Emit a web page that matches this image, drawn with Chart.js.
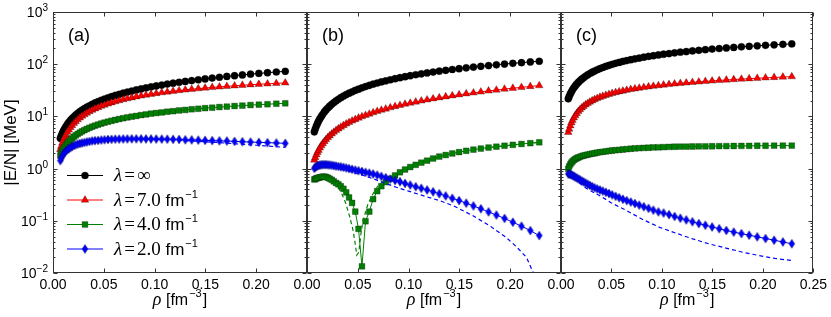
<!DOCTYPE html>
<html>
<head>
<meta charset="utf-8">
<script src="https://cdn.jsdelivr.net/npm/chart.js@4.4.0/dist/chart.umd.min.js"></script>
<style>
  html, body { margin: 0; padding: 0; background: #fff; }
  #wrap { position: relative; width: 831px; height: 317px; }
  #wrap canvas { position: absolute; left: 0; top: 0; }
</style>
</head>
<body>
<div id="wrap">
  <canvas id="pa" width="831" height="317"></canvas>
  <canvas id="pb" width="831" height="317"></canvas>
  <canvas id="pc" width="831" height="317"></canvas>
</div>
<script>
// density grid (fm^-3), shared by all markers
const rho = [0.0072,0.0081,0.0092,0.0103,0.0114,0.0127,0.0141,0.0155,0.0171,0.0187,
  0.0205,0.0223,0.0243,0.0264,0.0286,0.0309,0.0333,0.0359,0.0386,0.0414,
  0.0444,0.0475,0.0507,0.0541,0.0576,0.0613,0.0651,0.0691,0.0732,0.0775,
  0.0820,0.0867,0.0915,0.0965,0.1016,0.1070,0.1125,0.1182,0.1241,0.1302,
  0.1365,0.1430,0.1497,0.1567,0.1638,0.1711,0.1787,0.1864,0.1944,0.2026,
  0.2111,0.2198,0.2286];

// panel (a)
const aInf = [3.80,4.24,4.77,5.29,5.80,6.40,7.03,7.65,8.36,9.06,
  9.83,10.6,11.4,12.3,13.2,14.1,15.0,16.0,17.1,18.1,
  19.2,20.4,21.5,22.7,23.9,25.2,26.5,27.9,29.3,30.6,
  32.1,33.6,35.1,36.8,38.3,39.9,41.6,43.3,45.1,46.8,
  48.6,50.4,52.3,54.3,56.2,58.2,60.2,62.3,64.5,66.6,
  68.7,70.9,73.1];
const a7 = [2.32,2.67,3.10,3.53,3.96,4.46,4.99,5.51,6.11,6.70,
  7.34,7.97,8.67,9.38,10.1,10.8,11.6,12.4,13.2,14.0,
  14.8,15.7,16.5,17.4,18.3,19.2,20.1,21.0,21.9,22.8,
  23.8,24.7,25.6,26.6,27.5,28.5,29.4,30.4,31.3,32.2,
  33.1,34.0,35.0,35.9,36.8,37.7,38.6,39.5,40.4,41.3,
  42.1,43.0,43.9];
const a4 = [1.78,1.96,2.18,2.39,2.60,2.83,3.07,3.30,3.55,3.80,
  4.07,4.33,4.61,4.89,5.17,5.46,5.74,6.05,6.36,6.66,
  6.97,7.29,7.60,7.92,8.24,8.56,8.90,9.23,9.56,9.89,
  10.2,10.6,10.9,11.3,11.6,11.9,12.3,12.6,13.0,13.3,
  13.7,14.0,14.4,14.7,15.1,15.4,15.8,16.1,16.5,16.8,
  17.1,17.5,17.8];
const a2 = [1.42,1.58,1.74,1.91,2.04,2.19,2.29,2.40,2.51,2.63,
  2.75,2.85,2.95,3.02,3.09,3.16,3.24,3.31,3.39,3.43,
  3.47,3.53,3.57,3.61,3.63,3.66,3.68,3.70,3.71,3.72,
  3.72,3.72,3.71,3.70,3.69,3.67,3.66,3.63,3.61,3.57,
  3.55,3.52,3.48,3.44,3.40,3.37,3.32,3.27,3.23,3.18,
  3.14,3.10,3.05];
const aDash2Rho = [0.0072,0.010,0.015,0.020,0.030,0.040,0.050,0.060,0.080,0.100,0.120,0.140,0.160,0.180,0.200,0.2286];
const aDash2 = [1.42,1.87,2.37,2.72,3.14,3.41,3.56,3.64,3.70,3.64,3.52,3.36,3.18,2.98,2.80,2.55];

// panel (b)
const bInf = [5.06,5.72,6.53,7.33,8.13,9.06,10.0,11.0,12.2,13.3,
  14.5,15.7,17.0,18.4,19.8,21.3,22.8,24.5,26.2,27.8,
  29.6,31.5,33.3,35.3,37.2,39.3,41.5,43.6,45.8,48.0,
  50.4,52.8,55.2,57.7,60.2,62.8,65.4,68.1,70.8,73.6,
  76.4,79.2,82.2,85.2,88.1,91.2,94.3,97.4,100.7,103.9,
  107.1,110.4,113.8];
const b7 = [1.46,1.63,1.84,2.05,2.25,2.50,2.76,3.02,3.31,3.61,
  3.94,4.26,4.63,5.01,5.40,5.81,6.23,6.70,7.19,7.68,
  8.20,8.75,9.31,9.89,10.5,11.1,11.8,12.5,13.2,13.9,
  14.7,15.5,16.3,17.2,18.0,18.9,19.8,20.8,21.8,22.8,
  23.8,24.9,26.0,27.2,28.3,29.5,30.8,32.0,33.4,34.7,
  36.0,37.5,38.9];
const b4 = [0.62,0.63,0.65,0.66,0.67,0.68,0.69,0.70,0.70,0.69,
  0.67,0.64,0.61,0.57,0.53,0.50,0.46,0.41,0.35,0.28,
  0.22,0.15,0.070,0.0134,0.098,0.15,0.26,0.37,0.46,0.55,
  0.64,0.74,0.85,0.96,1.07,1.18,1.30,1.42,1.56,1.70,
  1.82,1.95,2.07,2.19,2.31,2.42,2.53,2.63,2.74,2.85,
  2.96,3.07,3.19];
const b2 = [1.01,1.06,1.10,1.13,1.15,1.17,1.18,1.19,1.19,1.19,
  1.18,1.17,1.16,1.14,1.12,1.10,1.08,1.06,1.03,1.00,
  0.97,0.94,0.91,0.88,0.85,0.82,0.79,0.75,0.71,0.67,
  0.63,0.59,0.56,0.52,0.485,0.45,0.42,0.39,0.36,0.33,
  0.30,0.27,0.244,0.218,0.193,0.170,0.148,0.129,0.111,0.094,
  0.079,0.065,0.052];
const bDash4Rho = [0.0072,0.010,0.015,0.020,0.025,0.030,0.034,0.038,0.042,0.045,0.047,0.049,0.051,0.053,0.0551,0.060,0.065,0.070,0.078,0.087,0.100,0.120,0.150,0.180,0.2286];
const bDash4 = [0.60,0.63,0.67,0.65,0.57,0.46,0.34,0.22,0.12,0.07,0.042,0.022,0.025,0.055,0.10,0.21,0.33,0.47,0.63,0.78,1.04,1.46,2.07,2.55,3.19];
const bDash2Rho = [0.0072,0.012,0.018,0.025,0.032,0.040,0.050,0.065,0.080,0.0879,0.100,0.115,0.1305,0.145,0.163,0.180,0.196,0.206,0.216,0.221,0.2286];
const bDash2 = [1.00,1.15,1.17,1.10,1.00,0.90,0.80,0.64,0.50,0.44,0.37,0.30,0.244,0.19,0.126,0.080,0.048,0.032,0.020,0.012,0.006];

// panel (c)
const cInf = [21.7,24.1,26.9,29.6,32.3,35.3,38.4,41.4,44.8,48.1,
  51.7,55.0,58.8,62.6,66.3,70.2,74.1,78.2,82.4,86.5,
  90.8,95.2,99.4,103.9,108.2,112.8,117.5,122.1,126.7,131.3,
  136.1,140.9,145.6,150.6,155.3,160.1,165.0,170.1,174.9,179.9,
  184.7,189.6,194.6,199.7,204.7,209.7,214.8,219.6,224.9,230.0,
  234.8,240.0,244.9];
const c7 = [4.95,5.71,6.64,7.54,8.40,9.39,10.4,11.4,12.5,13.5,
  14.6,15.6,16.7,17.8,18.9,20.0,21.1,22.2,23.3,24.3,
  25.4,26.5,27.6,28.7,29.7,30.7,31.8,32.9,33.9,34.9,
  35.9,37.0,38.0,39.0,40.0,41.0,42.0,43.0,44.0,45.0,
  45.9,46.9,47.9,48.9,49.9,50.9,51.9,52.8,53.8,54.8,
  55.8,56.8,57.8];
const c4 = [0.99,1.10,1.21,1.30,1.38,1.45,1.52,1.58,1.63,1.68,
  1.73,1.77,1.81,1.85,1.89,1.93,1.97,2.02,2.06,2.10,
  2.14,2.18,2.22,2.25,2.29,2.32,2.36,2.40,2.43,2.46,
  2.49,2.51,2.54,2.56,2.58,2.60,2.62,2.63,2.64,2.65,
  2.66,2.67,2.68,2.69,2.70,2.71,2.72,2.73,2.74,2.74,
  2.75,2.76,2.76];
const c2 = [0.794,0.789,0.776,0.759,0.738,0.714,0.689,0.664,0.637,0.611,
  0.583,0.557,0.530,0.504,0.478,0.453,0.429,0.409,0.390,0.371,
  0.352,0.333,0.314,0.295,0.277,0.259,0.244,0.229,0.214,0.200,
  0.186,0.173,0.160,0.148,0.141,0.131,0.121,0.112,0.104,0.0957,
  0.0883,0.0822,0.0762,0.0705,0.0652,0.0608,0.0568,0.0530,0.0493,0.0458,
  0.0425,0.0393,0.0363];
const cDash2Rho = [0.0072,0.010,0.015,0.020,0.025,0.0323,0.040,0.050,0.065,0.080,0.0977,0.115,0.1305,0.147,0.1634,0.180,0.196,0.212,0.2286];
const cDash2 = [0.79,0.74,0.61,0.50,0.42,0.35,0.29,0.22,0.157,0.108,0.075,0.057,0.045,0.036,0.030,0.025,0.0216,0.019,0.0173];

// axes
const xTicks = [0, 0.05, 0.10, 0.15, 0.20, 0.25];
const yTicks = [0.01, 0.1, 1, 10, 100, 1000];
const yExp = ['\u22122', '\u22121', '0', '1', '2', '3'];
const lamValues = ['\u221e', '7.0', '4.0', '2.0'];

const colors = ['#000000', '#ff0000', '#008000', '#0000ff'];
const edge = 'rgba(0,0,0,0.55)';
const SANS = '"Liberation Sans", Arial, sans-serif';
const SERIF = '"Liberation Serif", "DejaVu Serif", serif';

// thin diamond marker (matplotlib 'd')
function makeDiamond(w, h, fill) {
  const c = document.createElement('canvas');
  c.width = w + 2; c.height = h + 2;
  const g = c.getContext('2d');
  g.beginPath();
  g.moveTo(c.width / 2, 1);
  g.lineTo(w + 1, c.height / 2);
  g.lineTo(c.width / 2, h + 1);
  g.lineTo(1, c.height / 2);
  g.closePath();
  g.fillStyle = fill; g.fill();
  g.lineWidth = 0.5; g.strokeStyle = edge; g.stroke();
  return c;
}
const diamond = makeDiamond(6, 9, colors[3]);
const pointStyles = ['circle', 'triangle', 'rect', diamond];
const pointRadii = [3.6, 4.4, 4.1, 4.0];

function markerSet(ys, i) {
  return {
    data: rho.map((x, k) => ({ x, y: ys[k] })),
    borderColor: colors[i], backgroundColor: colors[i], borderWidth: 1,
    pointStyle: pointStyles[i], pointRadius: pointRadii[i],
    pointBackgroundColor: colors[i], pointBorderColor: edge, pointBorderWidth: 0.5,
    tension: 0
  };
}
function dashSet(xs, ys, i) {
  return {
    data: xs.map((x, k) => ({ x, y: ys[k] })),
    borderColor: colors[i], borderWidth: 1.2, borderDash: [4, 3],
    pointRadius: 0, tension: 0
  };
}

// frame, inward ticks, labels
function drawFrame(chart, opts) {
  const ctx = chart.ctx, a = chart.chartArea;
  const xs = chart.scales.x, ys = chart.scales.y;
  const L = Math.round(a.left) + 0.5, R = Math.round(a.right) - 0.5;
  const T = Math.round(a.top) + 0.5, B = Math.round(a.bottom) - 0.5;
  ctx.save();
  ctx.strokeStyle = '#333'; ctx.lineWidth = 1;
  ctx.beginPath();
  xTicks.forEach(v => {
    const px = Math.round(xs.getPixelForValue(v)) + 0.5;
    ctx.moveTo(px, B); ctx.lineTo(px, B - 4);
    ctx.moveTo(px, T); ctx.lineTo(px, T + 4);
  });
  for (let e = -2; e <= 3; e++) {
    for (let k = 1; k <= 9; k++) {
      if (e === 3 && k > 1) break;
      const py = Math.round(ys.getPixelForValue(k * Math.pow(10, e))) + 0.5;
      const len = k === 1 ? 4 : 2;
      ctx.moveTo(L, py); ctx.lineTo(L + len, py);
      ctx.moveTo(R, py); ctx.lineTo(R - len, py);
    }
  }
  ctx.stroke();
  ctx.strokeRect(L, T, R - L, B - T);

  ctx.fillStyle = '#000';
  // panel tag
  ctx.font = '18px ' + SANS;
  ctx.textAlign = 'left'; ctx.textBaseline = 'alphabetic';
  ctx.fillText(opts.tag, a.left + 15, a.top + 29);

  // x title: rho [fm^-3]
  const cx = (a.left + a.right) / 2, by = 305;
  ctx.font = 'italic 18px ' + SERIF;
  const w1 = ctx.measureText('\u03c1').width;
  ctx.font = '16px ' + SANS;
  const w2 = ctx.measureText(' [fm').width;
  const w4 = ctx.measureText(']').width;
  ctx.font = '11px ' + SANS;
  const w3 = ctx.measureText('\u22123').width + 2;
  let x0 = cx - (w1 + w2 + w3 + w4) / 2;
  ctx.font = 'italic 18px ' + SERIF; ctx.fillText('\u03c1', x0, by); x0 += w1;
  ctx.font = '16px ' + SANS; ctx.fillText(' [fm', x0, by); x0 += w2;
  ctx.font = '11px ' + SANS; ctx.fillText('\u22123', x0 + 1, by - 8); x0 += w3;
  ctx.font = '16px ' + SANS; ctx.fillText(']', x0, by);

  if (opts.yAxis) {
    yTicks.forEach((v, i) => {
      const py = ys.getPixelForValue(v);
      const right = a.left - 5;
      ctx.font = '10px ' + SANS;
      const ew = ctx.measureText(yExp[i]).width;
      ctx.textAlign = 'left';
      ctx.fillText(yExp[i], right - ew, py - 1);
      ctx.font = '14px ' + SANS;
      ctx.textAlign = 'right';
      ctx.fillText('10', right - ew, py + 5);
    });
    ctx.save();
    ctx.translate(16, (a.top + a.bottom) / 2);
    ctx.rotate(-Math.PI / 2);
    ctx.textAlign = 'center';
    ctx.font = '17px ' + SANS;
    ctx.fillText('|E/N| [MeV]', 0, 0);
    ctx.restore();
  }
  if (opts.legend) drawLegend(ctx, a);
  ctx.restore();
}

function drawMarker(ctx, i, x, y) {
  if (i === 3) { ctx.drawImage(diamond, x - diamond.width / 2, y - diamond.height / 2); return; }
  ctx.fillStyle = colors[i]; ctx.strokeStyle = edge; ctx.lineWidth = 0.5;
  ctx.beginPath();
  const r = pointRadii[i];
  if (i === 0) ctx.arc(x, y, r, 0, Math.PI * 2);
  if (i === 1) {
    ctx.moveTo(x, y - r);
    ctx.lineTo(x + r * 0.866, y + r * 0.5);
    ctx.lineTo(x - r * 0.866, y + r * 0.5);
    ctx.closePath();
  }
  if (i === 2) { const s = r * Math.SQRT1_2; ctx.rect(x - s, y - s, 2 * s, 2 * s); }
  ctx.fill(); ctx.stroke();
}

function drawLegend(ctx, a) {
  lamValues.forEach((lv, i) => {
    const y = 175 + 24.5 * i;
    ctx.strokeStyle = colors[i]; ctx.lineWidth = 1;
    ctx.beginPath(); ctx.moveTo(67, y + 0.5); ctx.lineTo(103, y + 0.5); ctx.stroke();
    drawMarker(ctx, i, 85, y + 0.5);
    ctx.fillStyle = '#000';
    ctx.textAlign = 'left';
    let x = 114;
    const by = y + 6;
    ctx.font = 'italic 19px ' + SERIF;
    ctx.fillText('\u03bb', x, by); x += ctx.measureText('\u03bb').width + 2;
    ctx.font = '19px ' + SERIF;
    ctx.fillText('=', x, by); x += ctx.measureText('=').width + 2;
    ctx.fillText(lv, x, by); x += ctx.measureText(lv).width;
    if (i > 0) {
      ctx.font = '17px ' + SANS;
      ctx.fillText(' fm', x, by); x += ctx.measureText(' fm').width + 1;
      ctx.font = '11px ' + SANS;
      ctx.fillText('\u22121', x, by - 8);
    }
  });
}

function makePanel(id, tag, datasets, pad, opts) {
  new Chart(document.getElementById(id), {
    type: 'line',
    data: { datasets },
    options: {
      responsive: false, animation: false, events: [],
      layout: { padding: pad },
      plugins: { legend: { display: false }, tooltip: { enabled: false } },
      scales: {
        x: {
          type: 'linear', min: 0, max: 0.25,
          afterBuildTicks: s => { s.ticks = xTicks.map(v => ({ value: v })); },
          afterFit: s => { s.height = 44; },
          grid: { display: false, drawTicks: false }, border: { display: false },
          ticks: {
            padding: 4, color: '#000', autoSkip: false, maxRotation: 0,
            font: { family: SANS, size: 14 },
            callback: v => (opts.lastTick || v < 0.249) ? v.toFixed(2) : ''
          }
        },
        y: { type: 'logarithmic', min: 0.01, max: 1000, display: false }
      }
    },
    plugins: [{ id: 'frame', afterDraw: c => drawFrame(c, Object.assign({ tag }, opts)) }]
  });
}

// first dataset is drawn on top
makePanel('pa', '(a)', [
  dashSet(aDash2Rho, aDash2, 3), markerSet(a2, 3),
  markerSet(a4, 2), markerSet(a7, 1), markerSet(aInf, 0)
], { left: 53, right: 524, top: 12, bottom: 0 }, { yAxis: true, legend: true });

makePanel('pb', '(b)', [
  dashSet(bDash2Rho, bDash2, 3), markerSet(b2, 3),
  dashSet(bDash4Rho, bDash4, 2), markerSet(b4, 2),
  markerSet(b7, 1), markerSet(bInf, 0)
], { left: 307, right: 270, top: 12, bottom: 0 }, {});

makePanel('pc', '(c)', [
  dashSet(cDash2Rho, cDash2, 3), markerSet(c2, 3),
  markerSet(c4, 2), markerSet(c7, 1), markerSet(cInf, 0)
], { left: 561, right: 16, top: 12, bottom: 0 }, { lastTick: true });
</script>
</body>
</html>
